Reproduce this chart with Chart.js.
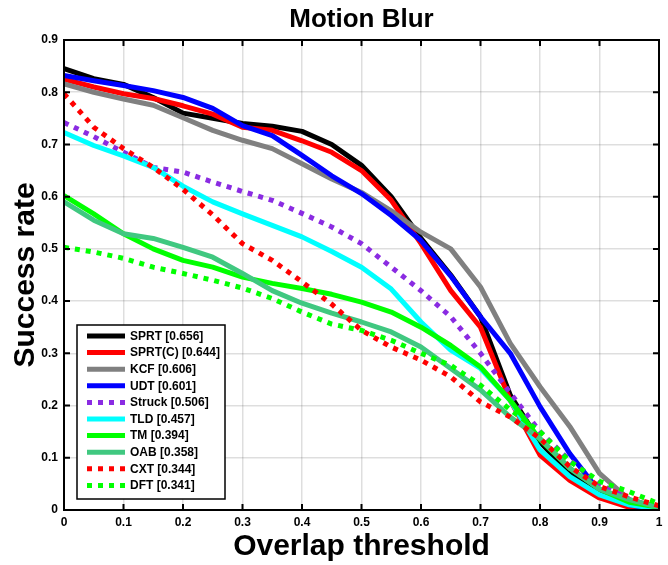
<!DOCTYPE html>
<html>
<head>
<meta charset="utf-8">
<script src="https://cdn.jsdelivr.net/npm/chart.js@4.4.0/dist/chart.umd.min.js"></script>
<style>
  html, body { margin: 0; padding: 0; background: #fff; }
</style>
</head>
<body>
<canvas id="chart" width="668" height="565"></canvas>
<script>
// overlap thresholds sampled along the x axis
const thresholds = [0, 0.05, 0.1, 0.15, 0.2, 0.25, 0.3, 0.35, 0.4, 0.45, 0.5,
  0.55, 0.6, 0.65, 0.7, 0.75, 0.8, 0.85, 0.9, 0.95, 1];

const trackers = ['SPRT [0.656]', 'SPRT(C) [0.644]', 'KCF [0.606]', 'UDT [0.601]', 'Struck [0.506]',
  'TLD [0.457]', 'TM [0.394]', 'OAB [0.358]', 'CXT [0.344]', 'DFT [0.341]'];

const sprt = [0.845, 0.826, 0.815, 0.79, 0.76, 0.75, 0.74, 0.735, 0.725, 0.70, 0.66,
  0.60, 0.52, 0.45, 0.37, 0.22, 0.13, 0.07, 0.03, 0.01, 0.0];
const sprtC = [0.825, 0.81, 0.797, 0.788, 0.774, 0.758, 0.733, 0.727, 0.707, 0.685, 0.65,
  0.593, 0.51, 0.42, 0.35, 0.21, 0.105, 0.057, 0.023, 0.005, 0.0];
const kcf = [0.816, 0.80, 0.787, 0.775, 0.751, 0.727, 0.708, 0.692, 0.663, 0.634, 0.608,
  0.573, 0.532, 0.50, 0.427, 0.319, 0.236, 0.16, 0.07, 0.02, 0.005];
const udt = [0.832, 0.822, 0.813, 0.803, 0.79, 0.769, 0.736, 0.717, 0.679, 0.64, 0.606,
  0.564, 0.516, 0.448, 0.37, 0.30, 0.198, 0.108, 0.035, 0.01, 0.0];
const struck = [0.742, 0.715, 0.685, 0.656, 0.647, 0.628, 0.61, 0.593, 0.568, 0.542, 0.51,
  0.465, 0.42, 0.37, 0.30, 0.224, 0.15, 0.095, 0.05, 0.02, 0.005];
const tld = [0.723, 0.698, 0.678, 0.656, 0.62, 0.59, 0.567, 0.545, 0.523, 0.495, 0.465,
  0.423, 0.36, 0.306, 0.271, 0.21, 0.115, 0.064, 0.029, 0.01, 0.002];
const tm = [0.602, 0.567, 0.529, 0.50, 0.478, 0.465, 0.446, 0.434, 0.424, 0.413, 0.398,
  0.379, 0.35, 0.315, 0.274, 0.21, 0.135, 0.08, 0.04, 0.015, 0.005];
const oab = [0.59, 0.555, 0.529, 0.52, 0.503, 0.484, 0.453, 0.42, 0.396, 0.377, 0.36,
  0.341, 0.312, 0.271, 0.23, 0.178, 0.137, 0.08, 0.04, 0.02, 0.005];
const cxt = [0.797, 0.733, 0.692, 0.656, 0.614, 0.565, 0.51, 0.478, 0.437, 0.394, 0.344,
  0.312, 0.287, 0.255, 0.207, 0.178, 0.137, 0.083, 0.045, 0.025, 0.008];
const dft = [0.503, 0.494, 0.482, 0.465, 0.453, 0.44, 0.425, 0.405, 0.379, 0.356, 0.344,
  0.325, 0.30, 0.277, 0.239, 0.192, 0.15, 0.093, 0.055, 0.035, 0.012];

const xTickLabels = ['0', '0.1', '0.2', '0.3', '0.4', '0.5', '0.6', '0.7', '0.8', '0.9', '1'];
const yTickLabels = ['0', '0.1', '0.2', '0.3', '0.4', '0.5', '0.6', '0.7', '0.8', '0.9'];

const series = [sprt, sprtC, kcf, udt, struck, tld, tm, oab, cxt, dft];
const colors = ['#000000', '#ff0000', '#808080', '#0000ff', '#8a2be2',
  '#00ffff', '#00ff00', '#40c880', '#ff0000', '#00ff00'];
const dotted = [false, false, false, false, true, false, false, false, true, true];

const FONT = "'Liberation Sans', Arial, Helvetica, sans-serif";

// MATLAB-style box with inward ticks
const axesBox = {
  id: 'axesBox',
  afterDatasetsDraw(chart) {
    const { ctx, chartArea: a, scales } = chart;
    ctx.save();
    ctx.strokeStyle = '#000';
    ctx.lineWidth = 2;
    ctx.strokeRect(a.left, a.top, a.right - a.left, a.bottom - a.top);
    ctx.beginPath();
    scales.x.ticks.forEach(t => {
      const px = scales.x.getPixelForValue(t.value);
      ctx.moveTo(px, a.bottom); ctx.lineTo(px, a.bottom - 6);
      ctx.moveTo(px, a.top); ctx.lineTo(px, a.top + 6);
    });
    scales.y.ticks.forEach(t => {
      const py = scales.y.getPixelForValue(t.value);
      ctx.moveTo(a.left, py); ctx.lineTo(a.left + 6, py);
      ctx.moveTo(a.right, py); ctx.lineTo(a.right - 6, py);
    });
    ctx.stroke();
    ctx.restore();
  }
};

// legend box in the lower left of the plot
const legendBox = {
  id: 'legendBox',
  afterDraw(chart) {
    const { ctx, chartArea: a } = chart;
    const left = a.left + 13, bottom = a.bottom - 11;
    const w = 148, rowH = 16.6, h = 174;
    const top = bottom - h;
    ctx.save();
    ctx.fillStyle = '#fff';
    ctx.fillRect(left, top, w, h);
    ctx.strokeStyle = '#000';
    ctx.lineWidth = 1.5;
    ctx.strokeRect(left, top, w, h);
    ctx.font = 'bold 12px ' + FONT;
    ctx.textBaseline = 'middle';
    chart.data.datasets.forEach((ds, i) => {
      const y = top + 11 + i * rowH;
      ctx.strokeStyle = ds.borderColor;
      ctx.lineWidth = 5;
      ctx.setLineDash(ds.borderDash || []);
      ctx.lineCap = 'butt';
      ctx.beginPath();
      ctx.moveTo(left + 10, y);
      ctx.lineTo(left + 48, y);
      ctx.stroke();
      ctx.setLineDash([]);
      ctx.fillStyle = '#000';
      ctx.fillText(ds.label, left + 53, y + 0.5);
    });
    ctx.restore();
  }
};

new Chart(document.getElementById('chart'), {
  type: 'line',
  data: {
    datasets: series.map((vals, i) => ({
      label: trackers[i],
      data: vals.map((v, k) => ({ x: thresholds[k], y: v })),
      borderColor: colors[i],
      backgroundColor: colors[i],
      borderWidth: 5,
      borderDash: dotted[i] ? [5, 6] : undefined,
      borderCapStyle: 'butt',
      borderJoinStyle: 'round',
      pointRadius: 0,
      tension: 0,
      fill: false,
      order: series.length - i
    }))
  },
  options: {
    responsive: false,
    animation: false,
    devicePixelRatio: 1,
    layout: { padding: { left: 0, right: 9, top: 0, bottom: 0 } },
    plugins: {
      legend: { display: false },
      tooltip: { enabled: false },
      title: {
        display: true,
        fullSize: false,
        text: 'Motion Blur',
        color: '#000',
        font: { family: FONT, size: 26, weight: 'bold' },
        padding: { top: 4, bottom: 4.8 }
      }
    },
    scales: {
      x: {
        type: 'linear',
        min: 0, max: 1,
        ticks: {
          stepSize: 0.1,
          color: '#000',
          padding: 5,
          maxRotation: 0,
          font: { family: FONT, size: 12, weight: 'bold' },
          callback: (v, i) => xTickLabels[i]
        },
        grid: { color: 'rgba(0,0,0,0.13)', lineWidth: 1.5, drawTicks: false },
        border: { display: false },
        title: {
          display: true,
          text: 'Overlap threshold',
          color: '#000',
          font: { family: FONT, size: 30, weight: 'bold' },
          padding: { top: 0, bottom: 0 }
        },
        afterFit: s => { s.height = 55; }
      },
      y: {
        type: 'linear',
        min: 0, max: 0.9,
        ticks: {
          stepSize: 0.1,
          color: '#000',
          padding: 6,
          font: { family: FONT, size: 12, weight: 'bold' },
          callback: (v, i) => yTickLabels[i]
        },
        grid: { color: 'rgba(0,0,0,0.13)', lineWidth: 1.5, drawTicks: false },
        border: { display: false },
        title: {
          display: true,
          text: 'Success rate',
          color: '#000',
          font: { family: FONT, size: 30, weight: 'bold' },
          padding: { top: 8, bottom: 0 }
        },
        afterFit: s => { s.width = 64; }
      }
    }
  },
  plugins: [axesBox, legendBox]
});
</script>
</body>
</html>
